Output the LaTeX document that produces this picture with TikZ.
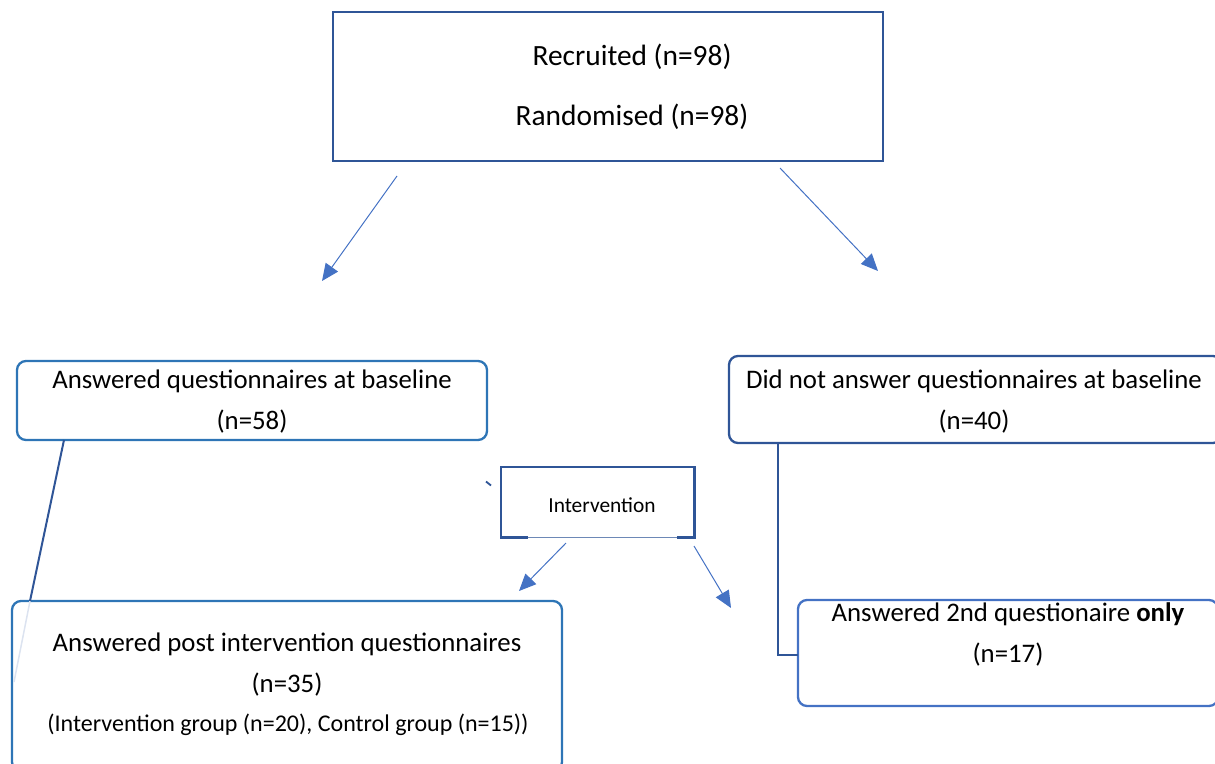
\documentclass[tikz,border=0pt]{standalone}
\usepackage{fontspec}
\setmainfont{Carlito}
\usetikzlibrary{arrows.meta}
\definecolor{darkblue}{HTML}{2F5597}
\definecolor{midblue}{HTML}{2E75B6}
\definecolor{arrblue}{HTML}{4472C4}
\definecolor{faintblue}{HTML}{DCE3F0}
\tikzset{
  sqbox/.style={draw=darkblue, line width=2.6pt, inner sep=0pt},
  rbox/.style={draw=midblue, line width=2.3pt, rounded corners=9pt, inner sep=0pt},
  txt/.style={inner sep=0pt, align=center, font=\fontsize{26.8}{41}\selectfont},
  arr/.style={draw=arrblue, line width=1pt, -{Triangle[length=17pt,width=15pt]}},
  link/.style={draw=darkblue, line width=2pt},
}
\begin{document}
\begin{tikzpicture}[x=1pt,y=-1pt]
\useasboundingbox (0,0) rectangle (1215,763);
% top box
\node[sqbox, minimum width=550pt, minimum height=149pt] (top) at (608,86.5) {};
\node[txt, font=\fontsize{29.4}{60}\selectfont] (toptxt) at (632,87) {Recruited (n=98)\\Randomised (n=98)};
% arrow ends
\coordinate (a1s) at (397,176); \coordinate (a1e) at (322,281);
\coordinate (a2s) at (780,168); \coordinate (a2e) at (878,271);
\draw[arr] (a1s) -- (a1e);
\draw[arr] (a2s) -- (a2e);
% left baseline box
\node[rbox, minimum width=470pt, minimum height=79pt] (base) at (252,400.5) {};
\node[txt] (basetxt) at (252,401.5) {Answered questionnaires at baseline\\(n=58)};
% right baseline box
\node[rbox, draw=darkblue, minimum width=493pt, minimum height=87pt] (nobase) at (975.5,399.5) {};
\node[txt] (nobasetxt) at (974,401.5) {Did not answer questionnaires at baseline\\(n=40)};
% intervention box
\node[inner sep=0pt, minimum width=193pt, minimum height=70pt] (int) at (597.5,502) {};
\draw[darkblue, line width=2.6pt] ([xshift=27pt]int.south west) -- (int.south west) -- (int.north west) -- (int.north east) -- (int.south east) -- ([xshift=-17pt]int.south east);
\draw[darkblue!70, line width=0.8pt] ([xshift=27pt]int.south west) -- ([xshift=-17pt]int.south east);
\node[inner sep=0pt, font=\fontsize{21.4}{24}\selectfont] (inttxt) at (602,505) {Intervention};
\coordinate (tick1) at (486,481.5); \coordinate (tick2) at (491,485.5);
\draw[darkblue, line width=1.8pt] (tick1) -- (tick2);
\coordinate (b1s) at (566,543); \coordinate (b1e) at (519,591);
\coordinate (b2s) at (694,546); \coordinate (b2e) at (731,608);
\draw[arr] (b1s) -- (b1e);
\draw[arr] (b2s) -- (b2e);
% bottom left box
\node[rbox, minimum width=550pt, minimum height=170pt] (post) at (287,686) {};
\node[txt] (posttxt) at (287,665) {Answered post intervention questionnaires\\(n=35)};
\node[inner sep=0pt, font=\fontsize{24}{28}\selectfont] (grouptxt) at (288,725) {(Intervention group (n=20), Control group (n=15))};
% bottom right box
\node[rbox, draw=arrblue, minimum width=420pt, minimum height=106pt] (only) at (1008,653) {};
\node[txt] (onlytxt) at (1008,634.5) {Answered 2nd questionaire \textbf{only}\\(n=17)};
% connectors
\coordinate (l1) at (64,440); \coordinate (l2) at (30,601); \coordinate (l3) at (14,682);
\draw[faintblue, line width=1.5pt] (l2) -- (l3);
\draw[link] (l1) -- (l2);
\coordinate (r1) at (778,443); \coordinate (r2) at (778,655); \coordinate (r3) at (798,655);
\draw[link] (r1) -- (r2) -- (r3);
\end{tikzpicture}
\end{document}
